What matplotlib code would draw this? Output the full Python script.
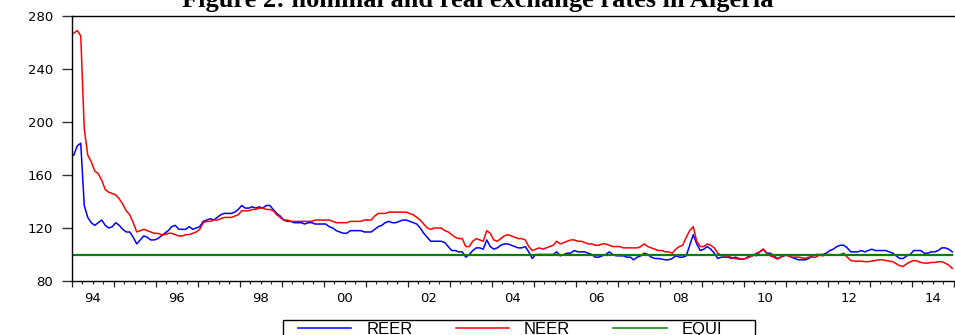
import matplotlib
matplotlib.use("Agg")
import matplotlib.pyplot as plt
from matplotlib.lines import Line2D
from matplotlib.patches import Rectangle

# Monthly effective exchange rate indices, Jan 1994 - Dec 2014 (one row per year)
reer = [
    175, 182, 184, 137, 128, 124, 122, 124, 126, 122, 120, 121,   # 1994
    124, 122, 119, 117, 117, 113, 108, 111, 114, 113, 111, 111,   # 1995
    112, 114, 116, 118, 121, 122, 119, 119, 119, 121, 119, 120,   # 1996
    121, 125, 126, 127, 126, 128, 130, 131, 131, 131, 132, 134,   # 1997
    137, 135, 135, 136, 135, 136, 135, 137, 137, 134, 131, 129,   # 1998
    126, 125, 125, 124, 124, 124, 123, 124, 124, 123, 123, 123,   # 1999
    123, 121, 120, 118, 117, 116, 116, 118, 118, 118, 118, 117,   # 2000
    117, 117, 119, 121, 122, 124, 125, 124, 124, 125, 126, 126,   # 2001
    125, 124, 123, 120, 116, 113, 110, 110, 110, 110, 109, 106,   # 2002
    103, 103, 102, 102, 98, 100, 103, 105, 105, 104, 111, 106,    # 2003
    104, 105, 107, 108, 108, 107, 106, 105, 105, 106, 102, 97,    # 2004
    100, 100, 100, 100, 100, 100, 102, 99, 100, 101, 101, 103,    # 2005
    102, 102, 102, 101, 100, 98, 98, 99, 100, 102, 100, 99,       # 2006
    99, 99, 98, 98, 96, 98, 99, 101, 100, 98, 97, 97,             # 2007
    96.5, 96, 96, 97, 99, 98, 98, 99, 107, 115, 108, 103,         # 2008
    104, 106, 104, 101, 97, 98, 98, 98, 97, 98, 97, 96.5,         # 2009
    97, 99, 100, 99, 102, 104, 101, 101, 99, 97, 98, 99,          # 2010
    100, 98, 97, 96, 96, 96, 97, 99, 100, 100, 100, 101,          # 2011
    103, 104, 106, 107, 107, 105, 102, 102, 102, 103, 102, 103,   # 2012
    104, 103, 103, 103, 103, 102, 101, 99, 97, 97, 99, 100,       # 2013
    103, 103, 103, 101, 101, 102, 102, 103, 105, 105, 104, 102,   # 2014
]

neer = [
    267, 269, 265, 195, 175, 170, 163, 161, 156, 149, 147, 146,   # 1994
    145, 142, 138, 133, 130, 124, 117, 118, 119, 118, 117, 116,   # 1995
    116, 115, 115, 116, 116, 115, 114, 114, 115, 115, 116, 117,   # 1996
    119, 124, 125, 125, 126, 126, 127, 128, 128, 128, 129, 130,   # 1997
    133, 133, 133, 134, 134, 135, 135, 134, 134, 133, 130, 128,   # 1998
    126, 126, 125, 125, 125, 125, 125, 125, 125, 126, 126, 126,   # 1999
    126, 126, 125, 124, 124, 124, 124, 125, 125, 125, 125, 126,   # 2000
    126, 126, 129, 131, 131, 131, 132, 132, 132, 132, 132, 132,   # 2001
    131, 130, 128, 126, 123, 120, 119, 120, 120, 120, 118, 117,   # 2002
    115, 113, 112, 112, 106, 106, 110, 112, 111, 110, 118, 116,   # 2003
    111, 110, 112, 114, 115, 114, 113, 112, 112, 111, 106, 103,   # 2004
    104, 105, 104, 105, 106, 107, 110, 108, 109, 110, 111, 111,   # 2005
    110, 110, 109, 108, 108, 107, 107, 108, 108, 107, 106, 106,   # 2006
    106, 105, 105, 105, 105, 105, 106, 108, 106, 105, 104, 103,   # 2007
    103, 102, 102, 101, 104, 106, 107, 113, 118, 121, 110, 106,   # 2008
    106, 108, 107, 105, 101, 99.5, 99, 99, 97.5, 97, 96.5, 96.5,  # 2009
    97, 98, 99, 101, 102, 104, 101, 99, 98, 96.5, 98, 100,        # 2010
    99, 98, 98, 98, 97.5, 97, 98, 98, 98, 99.5, 99, 100,          # 2011
    100, 99.5, 99.5, 100, 101, 98, 95.5, 95, 95, 95, 94.6, 94.6,  # 2012
    95, 95.5, 96, 96, 95.5, 95, 94.6, 93, 91.5, 91, 93, 94.5,     # 2013
    95.5, 95, 94, 93.5, 93.5, 94, 94, 94.5, 94.6, 93.5, 92, 89.5, # 2014
]

equi_level = 100
first_year = 1994
last_year = 2015
year_labels = ["94", "96", "98", "00", "02", "04", "06", "08", "10", "12", "14"]
y_ticks = [80, 120, 160, 200, 240, 280]

# Observation dates as fractional years (mid-month)
t = [first_year + (i + 0.5) / 12 for i in range(len(reer))]
equi = [equi_level] * len(t)

W, H = 955, 335
fig = plt.figure(figsize=(W / 100, H / 100), dpi=100)
ax = fig.add_axes([72 / W, 1 - 281 / H, (954 - 72) / W, (281 - 16) / H])

ax.plot(t, reer, color="#0000ff", lw=1.1, label="REER")
ax.plot(t, neer, color="#ff0000", lw=1.1, label="NEER")
ax.plot(t, equi, color="#008000", lw=1.6, label="EQUI")

ax.set_xlim(first_year, last_year)
ax.set_ylim(80, 280)
ax.set_yticks(y_ticks)
ax.set_yticklabels([str(v) for v in y_ticks])

# Year ticks at January, quarter minor ticks
ax.set_xticks(list(range(first_year, last_year + 1)))
ax.set_xticklabels([])
ax.set_xticks([first_year + q / 4 for q in range((last_year - first_year) * 4 + 1)], minor=True)
ax.tick_params(axis="x", which="major", direction="out", length=4.5, width=0.9, color="#222222")
ax.tick_params(axis="x", which="minor", direction="out", length=2.2, width=0.8, color="#222222")
ax.tick_params(axis="y", which="major", direction="out", length=7, width=1.0, color="#333333",
               pad=6.5, labelsize=9.5)

# Year labels centred within every other year
sec = ax.secondary_xaxis("bottom")
sec.set_xticks([int(("19" if int(s) > 50 else "20") + s) + 0.5 for s in year_labels])
sec.set_xticklabels(year_labels)
sec.tick_params(length=0, pad=8, labelsize=9.5)
sec.spines["bottom"].set_visible(False)

ax.spines["right"].set_visible(False)
for s in ("left", "top", "bottom"):
    ax.spines[s].set_linewidth(1.0)
    ax.spines[s].set_color("black")

fig.text(478 / W, 1 - 7 / H, "Figure 2: nominal and real exchange rates in Algeria",
         ha="center", va="baseline", fontsize=19, fontweight="bold",
         family="Liberation Serif")

# Legend strip below the plot: a plain box with the key entries inside
fig.patches.append(Rectangle((283 / W, -0.2), 472 / W, 0.2 + 1 - 320 / H,
                             transform=fig.transFigure, fill=False,
                             edgecolor="black", lw=1.0))
handles = [Line2D([], [], color="#0000ff", lw=1.1),
           Line2D([], [], color="#ff0000", lw=1.1),
           Line2D([], [], color="#008000", lw=1.1)]
leg = fig.legend(handles, ["REER", "NEER", "EQUI"], loc="upper left",
                 bbox_to_anchor=(298 / W, 1 - 322 / H), borderaxespad=0, borderpad=0,
                 ncol=3, frameon=False, handlelength=3.2, handletextpad=0.9,
                 columnspacing=2.58, prop={"family": "Liberation Sans", "size": 12})

fig.savefig("out.png", dpi=100)
